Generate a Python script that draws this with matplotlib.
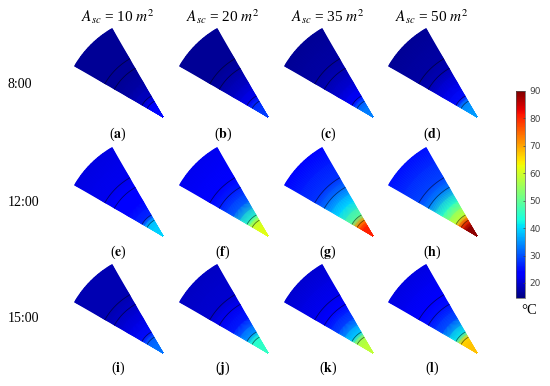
import numpy as np
import matplotlib
matplotlib.use("Agg")
import matplotlib.pyplot as plt
from matplotlib.cm import ScalarMappable
from matplotlib.colors import Normalize

plt.rcParams["font.family"] = ["Liberation Serif", "DejaVu Serif"]
plt.rcParams["mathtext.fontset"] = "stix"

areas = [10, 20, 35, 50]
hours = ["8:00", "12:00", "15:00"]
panel_names = ["a", "b", "c", "d", "e", "f", "g", "h", "i", "j", "k", "l"]

# radial stations from the tip of the wedge (same unit as pixels here)
radii = [0, 12, 18, 24, 40, 56, 67, 102]

# temperature along the radius, one list per panel (deg C)
temps_a = [25, 24, 22, 19, 17, 16, 16, 16]
temps_b = [29, 28, 27, 22, 19, 17, 16, 16]
temps_c = [34, 33, 31, 24, 20, 18, 17, 16]
temps_d = [36, 35, 34, 25, 21, 18, 17, 16]
temps_e = [40, 39, 38, 27, 24, 23, 22, 21]
temps_f = [62, 61, 59, 45, 31, 26, 24, 22]
temps_g = [81, 80, 72, 50, 40, 32, 28, 24]
temps_h = [90, 88, 78, 60, 45, 33, 29, 25]
temps_i = [33, 32, 31, 25, 21, 19, 18, 18]
temps_j = [46, 45, 44, 36, 26, 22, 20, 19]
temps_k = [59, 58, 56, 40, 29, 24, 22, 20]
temps_l = [68, 67, 66, 42, 30, 25, 23, 21]

panel_temps = [temps_a, temps_b, temps_c, temps_d,
               temps_e, temps_f, temps_g, temps_h,
               temps_i, temps_j, temps_k, temps_l]

cbar_ticks = [20, 30, 40, 50, 60, 70, 80, 90]
vmin, vmax = 14.5, 90

# layout in pixels
tip_x = [163, 268, 373, 477]
tip_y = [117, 236, 353]
label_x = [118, 223, 328, 432]
label_y = [134, 252, 368]
hour_y = [84, 203, 318]

fig = plt.figure(figsize=(5.5, 3.86), dpi=100)
ax = fig.add_axes([0, 0, 1, 1])
ax.set_xlim(0, 550)
ax.set_ylim(386, 0)
ax.axis("off")

norm = Normalize(vmin, vmax)
theta = np.radians(np.linspace(120, 150, 25))
r_arr = np.array(radii, dtype=float)

for i, temps in enumerate(panel_temps):
    row, col = divmod(i, 4)
    x0, y0 = tip_x[col], tip_y[row]
    rr, tt = np.meshgrid(r_arr, theta)
    X = x0 + rr * np.cos(tt)
    Y = y0 - rr * np.sin(tt)
    Z = np.tile(temps, (len(theta), 1))
    ax.pcolormesh(X, Y, Z, shading="gouraud", cmap="jet", norm=norm,
                  rasterized=True)
    # layer boundaries
    for r in [18, 24, 56, 67]:
        ax.plot(x0 + r * np.cos(theta), y0 - r * np.sin(theta),
                color="black", lw=0.6, alpha=0.55)
    ax.text(label_x[col], label_y[row], "($\\mathbf{%s}$)" % panel_names[i],
            ha="center", va="center", fontsize=10)

for x, a in zip(label_x, areas):
    ax.text(x, 17, "$A_{sc}$ = %d $m^2$" % a, ha="center", va="center",
            fontsize=11, math_fontfamily="stix")

for y, h in zip(hour_y, hours):
    ax.text(8, y, h, ha="left", va="center", fontsize=10)

cax = fig.add_axes([516 / 550, 1 - 298 / 386, 9 / 550, 207 / 386])
cb = fig.colorbar(ScalarMappable(norm=norm, cmap="jet"), cax=cax)
cb.set_ticks(cbar_ticks)
cb.ax.tick_params(labelsize=6.5, length=1.5, width=0.5, direction="in",
                  colors="#444444", pad=3)
for lab in cb.ax.get_yticklabels():
    lab.set_family("DejaVu Sans")
cb.outline.set_linewidth(0.5)
cb.outline.set_edgecolor("#555555")

ax.text(529, 310, "°C", ha="center", va="center", fontsize=10.5)

fig.savefig("out.png", dpi=100)
